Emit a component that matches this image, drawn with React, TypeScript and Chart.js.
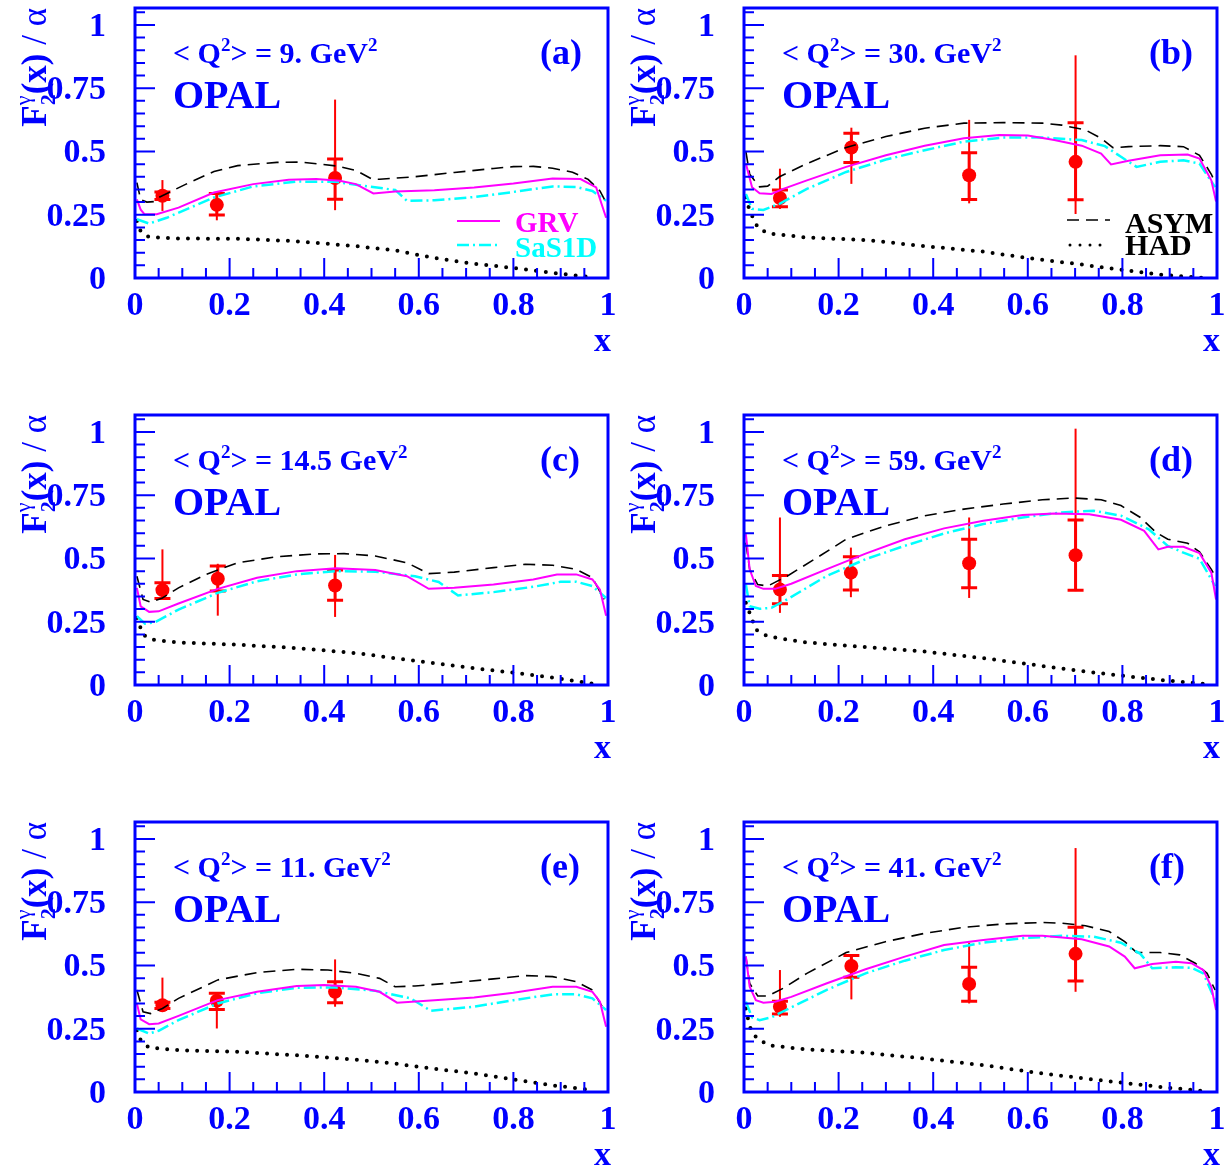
import React, { useEffect, useRef } from 'react';
import { Chart, registerables } from 'chart.js';
Chart.register(...registerables);

type XY = [number, number];
// [x, y, statLo, statHi, totLo, totHi]
type ErrPt = [number, number, number, number, number, number];

const X_TICKS = [0, 0.2, 0.4, 0.6, 0.8, 1];
const X_TICK_LABELS = ['0', '0.2', '0.4', '0.6', '0.8', '1'];
const Y_TICKS = [0, 0.25, 0.5, 0.75, 1];
const Y_TICK_LABELS = ['0', '0.25', '0.5', '0.75', '1'];
const X_MIN = 0;
const X_MAX = 1;
const Y_MIN = 0;
const Y_MAX = 1.067;
const MINOR_STEP = 0.05;

const PANEL_TAGS = ['(a)', '(b)', '(c)', '(d)', '(e)', '(f)'];
const Q2_VALUES = ['9.', '30.', '14.5', '59.', '11.', '41.'];
const SERIES_NAMES = ['GRV', 'SaS1D', 'ASYM', 'HAD'];

// ---------- panel (a) <Q2> = 9 ----------
const GRV_A: XY[] = [[0.004,0.311],[0.012,0.27],[0.02,0.252],[0.046,0.252],[0.092,0.278],[0.167,0.338],[0.25,0.371],[0.325,0.388],[0.383,0.391],[0.433,0.384],[0.467,0.371],[0.504,0.334],[0.55,0.342],[0.633,0.347],[0.717,0.358],[0.8,0.373],[0.883,0.393],[0.942,0.391],[0.975,0.358],[0.996,0.238]];
const SAS_A: XY[] = [[0.004,0.232],[0.03,0.215],[0.067,0.238],[0.167,0.318],[0.25,0.362],[0.342,0.381],[0.425,0.38],[0.483,0.364],[0.55,0.348],[0.575,0.305],[0.633,0.307],[0.717,0.32],[0.8,0.34],[0.883,0.362],[0.933,0.36],[0.967,0.344],[0.996,0.305]];
const ASYM_A: XY[] = [[0.004,0.377],[0.012,0.31],[0.025,0.30],[0.04,0.302],[0.05,0.318],[0.108,0.371],[0.167,0.421],[0.217,0.444],[0.30,0.457],[0.35,0.458],[0.425,0.443],[0.467,0.425],[0.5,0.392],[0.517,0.39],[0.59,0.40],[0.675,0.417],[0.758,0.433],[0.8,0.44],[0.842,0.441],[0.883,0.434],[0.925,0.418],[0.958,0.39],[0.983,0.344],[0.996,0.298]];
const HAD_A: XY[] = [[0.004,0.225],[0.012,0.185],[0.029,0.162],[0.092,0.156],[0.217,0.155],[0.333,0.146],[0.467,0.126],[0.55,0.109],[0.633,0.079],[0.717,0.056],[0.8,0.04],[0.883,0.02],[0.967,0.003]];
const PTS_A: ErrPt[] = [[0.058,0.325,0.31,0.34,0.265,0.387],[0.173,0.289,0.249,0.334,0.228,0.34],[0.423,0.395,0.311,0.47,0.268,0.705]];

// ---------- panel (b) <Q2> = 30 ----------
const GRV_B: XY[] = [[0.004,0.452],[0.017,0.359],[0.033,0.335],[0.058,0.332],[0.083,0.352],[0.133,0.386],[0.216,0.439],[0.30,0.485],[0.382,0.523],[0.465,0.552],[0.54,0.565],[0.60,0.563],[0.656,0.545],[0.714,0.523],[0.755,0.492],[0.776,0.449],[0.813,0.463],[0.88,0.485],[0.938,0.488],[0.963,0.472],[0.988,0.386],[0.998,0.302]];
const SAS_B: XY[] = [[0.004,0.332],[0.017,0.273],[0.041,0.269],[0.075,0.293],[0.133,0.352],[0.216,0.419],[0.30,0.468],[0.382,0.505],[0.465,0.539],[0.548,0.555],[0.631,0.555],[0.714,0.545],[0.763,0.521],[0.797,0.479],[0.83,0.439],[0.88,0.459],[0.929,0.465],[0.963,0.452],[0.996,0.359]];
const ASYM_B: XY[] = [[0.004,0.499],[0.012,0.41],[0.033,0.36],[0.05,0.363],[0.075,0.40],[0.133,0.452],[0.216,0.516],[0.30,0.559],[0.382,0.592],[0.465,0.612],[0.548,0.614],[0.631,0.612],[0.672,0.604],[0.722,0.585],[0.755,0.552],[0.78,0.515],[0.813,0.519],[0.88,0.523],[0.929,0.519],[0.963,0.485],[0.988,0.41],[0.997,0.372]];
const HAD_B: XY[] = [[0.004,0.319],[0.012,0.266],[0.029,0.20],[0.05,0.176],[0.133,0.16],[0.257,0.15],[0.382,0.126],[0.506,0.104],[0.589,0.082],[0.714,0.053],[0.797,0.033],[0.88,0.013],[0.975,0.0]];
const PTS_B: ErrPt[] = [[0.076,0.316,0.282,0.348,0.273,0.432],[0.227,0.516,0.456,0.572,0.372,0.594],[0.476,0.406,0.31,0.495,0.295,0.625],[0.701,0.459,0.309,0.614,0.253,0.88]];

// ---------- panel (c) <Q2> = 14.5 ----------
const GRV_C: XY[] = [[0.004,0.384],[0.012,0.311],[0.03,0.289],[0.05,0.291],[0.092,0.322],[0.175,0.38],[0.258,0.424],[0.342,0.45],[0.425,0.461],[0.508,0.454],[0.575,0.43],[0.621,0.38],[0.675,0.384],[0.758,0.397],[0.842,0.417],[0.892,0.437],[0.933,0.437],[0.967,0.417],[0.983,0.377],[0.996,0.274]];
const SAS_C: XY[] = [[0.004,0.272],[0.021,0.242],[0.042,0.248],[0.092,0.298],[0.175,0.364],[0.258,0.41],[0.342,0.437],[0.425,0.45],[0.508,0.448],[0.592,0.43],[0.642,0.407],[0.683,0.354],[0.758,0.367],[0.842,0.388],[0.9,0.408],[0.933,0.408],[0.967,0.391],[0.996,0.344]];
const ASYM_C: XY[] = [[0.004,0.43],[0.017,0.338],[0.033,0.327],[0.058,0.344],[0.092,0.384],[0.15,0.437],[0.217,0.483],[0.30,0.507],[0.383,0.518],[0.442,0.519],[0.508,0.51],[0.575,0.483],[0.621,0.44],[0.675,0.446],[0.758,0.464],[0.825,0.477],[0.883,0.473],[0.933,0.457],[0.967,0.424],[0.992,0.338]];
const HAD_C: XY[] = [[0.004,0.265],[0.017,0.199],[0.037,0.179],[0.092,0.168],[0.217,0.159],[0.342,0.146],[0.467,0.126],[0.55,0.106],[0.633,0.086],[0.717,0.066],[0.8,0.049],[0.883,0.029],[0.971,0.004]];
const PTS_C: ErrPt[] = [[0.058,0.375,0.342,0.404,0.338,0.536],[0.175,0.42,0.371,0.47,0.274,0.479],[0.423,0.393,0.335,0.454,0.269,0.514]];

// ---------- panel (d) <Q2> = 59 ----------
const GRV_D: XY[] = [[0.004,0.596],[0.012,0.457],[0.025,0.391],[0.041,0.38],[0.066,0.38],[0.1,0.40],[0.174,0.457],[0.257,0.519],[0.34,0.576],[0.423,0.619],[0.506,0.649],[0.589,0.672],[0.656,0.678],[0.73,0.675],[0.797,0.653],[0.846,0.609],[0.876,0.536],[0.896,0.546],[0.929,0.546],[0.963,0.521],[0.988,0.444],[0.998,0.338]];
const SAS_D: XY[] = [[0.004,0.397],[0.012,0.311],[0.033,0.301],[0.058,0.305],[0.091,0.338],[0.174,0.43],[0.257,0.497],[0.34,0.55],[0.423,0.599],[0.506,0.636],[0.589,0.662],[0.672,0.682],[0.739,0.689],[0.797,0.669],[0.855,0.616],[0.896,0.55],[0.929,0.523],[0.963,0.499],[0.996,0.391]];
const ASYM_D: XY[] = [[0.004,0.563],[0.012,0.457],[0.029,0.397],[0.05,0.391],[0.091,0.43],[0.149,0.497],[0.216,0.576],[0.299,0.629],[0.382,0.669],[0.465,0.695],[0.548,0.715],[0.631,0.732],[0.697,0.739],[0.755,0.732],[0.797,0.709],[0.838,0.662],[0.871,0.603],[0.896,0.576],[0.938,0.56],[0.963,0.526],[0.988,0.457],[0.996,0.43]];
const HAD_D: XY[] = [[0.004,0.325],[0.012,0.285],[0.025,0.219],[0.05,0.192],[0.133,0.168],[0.257,0.15],[0.382,0.132],[0.506,0.106],[0.631,0.075],[0.755,0.046],[0.88,0.02],[0.975,0.004]];
const PTS_D: ErrPt[] = [[0.076,0.377,0.321,0.433,0.285,0.662],[0.226,0.444,0.375,0.507,0.347,0.543],[0.476,0.481,0.384,0.576,0.344,0.662],[0.701,0.513,0.374,0.652,0.371,1.013]];

// ---------- panel (e) <Q2> = 11 ----------
const GRV_E: XY[] = [[0.004,0.35],[0.012,0.287],[0.03,0.268],[0.05,0.271],[0.092,0.301],[0.175,0.363],[0.258,0.396],[0.342,0.419],[0.4,0.423],[0.467,0.416],[0.517,0.396],[0.554,0.353],[0.633,0.363],[0.717,0.373],[0.8,0.392],[0.883,0.416],[0.933,0.416],[0.967,0.396],[0.983,0.357],[0.996,0.258]];
const SAS_E: XY[] = [[0.004,0.251],[0.03,0.231],[0.05,0.242],[0.092,0.284],[0.175,0.35],[0.258,0.39],[0.342,0.412],[0.425,0.413],[0.508,0.40],[0.583,0.37],[0.625,0.321],[0.717,0.337],[0.8,0.363],[0.883,0.386],[0.933,0.386],[0.967,0.37],[0.996,0.324]];
const ASYM_E: XY[] = [[0.004,0.403],[0.017,0.317],[0.033,0.31],[0.058,0.33],[0.092,0.37],[0.175,0.443],[0.258,0.472],[0.342,0.485],[0.408,0.482],[0.467,0.469],[0.517,0.449],[0.55,0.416],[0.592,0.419],[0.675,0.432],[0.758,0.447],[0.825,0.46],[0.883,0.456],[0.933,0.436],[0.967,0.403],[0.992,0.324]];
const HAD_E: XY[] = [[0.004,0.244],[0.012,0.205],[0.029,0.176],[0.092,0.165],[0.217,0.159],[0.342,0.145],[0.467,0.128],[0.55,0.112],[0.633,0.092],[0.717,0.073],[0.8,0.05],[0.883,0.026],[0.971,0.007]];
const PTS_E: ErrPt[] = [[0.058,0.343,0.33,0.355,0.337,0.452],[0.173,0.361,0.326,0.39,0.251,0.39],[0.423,0.396,0.353,0.436,0.337,0.524]];

// ---------- panel (f) <Q2> = 41 ----------
const GRV_F: XY[] = [[0.004,0.535],[0.012,0.416],[0.025,0.363],[0.041,0.353],[0.066,0.357],[0.1,0.376],[0.174,0.429],[0.257,0.485],[0.34,0.535],[0.423,0.581],[0.506,0.601],[0.589,0.617],[0.631,0.617],[0.714,0.604],[0.772,0.575],[0.805,0.535],[0.826,0.489],[0.863,0.506],[0.913,0.515],[0.946,0.509],[0.971,0.482],[0.988,0.416],[0.998,0.324]];
const SAS_F: XY[] = [[0.004,0.357],[0.017,0.295],[0.033,0.284],[0.058,0.295],[0.091,0.326],[0.174,0.403],[0.257,0.469],[0.34,0.519],[0.423,0.561],[0.506,0.59],[0.589,0.608],[0.672,0.617],[0.739,0.614],[0.797,0.59],[0.838,0.546],[0.863,0.489],[0.913,0.493],[0.946,0.491],[0.971,0.469],[0.996,0.363]];
const ASYM_F: XY[] = [[0.004,0.535],[0.012,0.429],[0.029,0.38],[0.05,0.379],[0.083,0.41],[0.133,0.469],[0.216,0.551],[0.299,0.594],[0.382,0.627],[0.465,0.651],[0.548,0.664],[0.631,0.67],[0.672,0.667],[0.722,0.657],[0.772,0.634],[0.805,0.594],[0.83,0.551],[0.88,0.551],[0.921,0.542],[0.954,0.509],[0.979,0.469],[0.996,0.403]];
const HAD_F: XY[] = [[0.004,0.33],[0.012,0.258],[0.025,0.218],[0.05,0.185],[0.133,0.168],[0.257,0.155],[0.382,0.132],[0.506,0.106],[0.631,0.073],[0.755,0.046],[0.88,0.02],[0.975,0.003]];
const PTS_F: ErrPt[] = [[0.076,0.337,0.308,0.359,0.297,0.482],[0.227,0.498,0.453,0.539,0.366,0.539],[0.476,0.427,0.359,0.493,0.35,0.59],[0.701,0.546,0.439,0.651,0.396,0.964]];

// ---------- styles ----------
const AXIS_BLUE = '#0000ff';
const POINT_RED = '#ff0000';
const FONT = '"Liberation Serif", "Times New Roman", serif';

type LineStyle = { color: string; width: number; dash: number[]; cap: CanvasLineCap };
const STYLE_GRV: LineStyle = { color: '#ff00ff', width: 2, dash: [], cap: 'butt' };
const STYLE_SAS: LineStyle = { color: '#00ffff', width: 2.5, dash: [12, 4, 2, 4], cap: 'butt' };
const STYLE_ASYM: LineStyle = { color: '#000000', width: 1.6, dash: [12, 7], cap: 'butt' };
const STYLE_HAD: LineStyle = { color: '#000000', width: 4, dash: [0, 10], cap: 'round' };

type PanelData = { grv: XY[]; sas: XY[]; asym: XY[]; had: XY[]; pts: ErrPt[] };
const PANEL_DATA: PanelData[] = [
  { grv: GRV_A, sas: SAS_A, asym: ASYM_A, had: HAD_A, pts: PTS_A },
  { grv: GRV_B, sas: SAS_B, asym: ASYM_B, had: HAD_B, pts: PTS_B },
  { grv: GRV_C, sas: SAS_C, asym: ASYM_C, had: HAD_C, pts: PTS_C },
  { grv: GRV_D, sas: SAS_D, asym: ASYM_D, had: HAD_D, pts: PTS_D },
  { grv: GRV_E, sas: SAS_E, asym: ASYM_E, had: HAD_E, pts: PTS_E },
  { grv: GRV_F, sas: SAS_F, asym: ASYM_F, had: HAD_F, pts: PTS_F },
];

// layout of each canvas (page pixels)
const LAYOUT = [
  { left: 0, top: 0, width: 640, height: 354, yAxisW: 135, padRight: 32 },
  { left: 612, top: 0, width: 615, height: 354, yAxisW: 132, padRight: 10 },
  { left: 0, top: 407, width: 640, height: 354, yAxisW: 135, padRight: 32 },
  { left: 612, top: 407, width: 615, height: 354, yAxisW: 132, padRight: 10 },
  { left: 0, top: 814, width: 640, height: 354, yAxisW: 135, padRight: 32 },
  { left: 612, top: 814, width: 615, height: 354, yAxisW: 132, padRight: 10 },
];

type Part = { t: string; size: number; weight?: string; dy?: number; noAdvance?: boolean };

function partFont(p: Part) {
  return `${p.weight ?? 'bold'} ${p.size}px ${FONT}`;
}
function measureParts(ctx: CanvasRenderingContext2D, parts: Part[]) {
  let w = 0;
  for (const p of parts) {
    ctx.font = partFont(p);
    if (!p.noAdvance) w += ctx.measureText(p.t).width;
  }
  return w;
}
function drawParts(ctx: CanvasRenderingContext2D, x: number, y: number, parts: Part[]) {
  let cx = x;
  ctx.textAlign = 'left';
  ctx.textBaseline = 'alphabetic';
  for (const p of parts) {
    ctx.font = partFont(p);
    ctx.fillText(p.t, cx, y + (p.dy ?? 0));
    if (!p.noAdvance) cx += ctx.measureText(p.t).width;
  }
}
function strokeSample(ctx: CanvasRenderingContext2D, s: LineStyle, x0: number, x1: number, y: number) {
  ctx.save();
  ctx.strokeStyle = s.color;
  ctx.lineWidth = s.width;
  ctx.setLineDash(s.dash);
  ctx.lineCap = s.cap;
  ctx.beginPath();
  ctx.moveTo(x0, y);
  ctx.lineTo(x1, y);
  ctx.stroke();
  ctx.restore();
}

function makePlugin(index: number) {
  const data = PANEL_DATA[index];
  return {
    id: 'opalDecor' + index,
    beforeDatasetsDraw(chart: any) {
      const { ctx } = chart;
      const xs = chart.scales.x;
      const ys = chart.scales.y;
      ctx.save();
      ctx.strokeStyle = POINT_RED;
      for (const [x, , sLo, sHi, tLo, tHi] of data.pts) {
        const px = xs.getPixelForValue(x);
        ctx.lineWidth = 2;
        ctx.beginPath();
        ctx.moveTo(px, ys.getPixelForValue(tLo));
        ctx.lineTo(px, ys.getPixelForValue(tHi));
        ctx.stroke();
        ctx.lineWidth = 3;
        const yl = ys.getPixelForValue(sLo);
        const yh = ys.getPixelForValue(sHi);
        ctx.beginPath();
        ctx.moveTo(px, yl);
        ctx.lineTo(px, yh);
        ctx.moveTo(px - 8, yl);
        ctx.lineTo(px + 8, yl);
        ctx.moveTo(px - 8, yh);
        ctx.lineTo(px + 8, yh);
        ctx.stroke();
      }
      ctx.restore();
    },
    afterDraw(chart: any) {
      const { ctx, chartArea: a } = chart;
      const xs = chart.scales.x;
      const ys = chart.scales.y;
      ctx.save();
      // frame
      ctx.strokeStyle = AXIS_BLUE;
      ctx.lineWidth = 3;
      ctx.strokeRect(a.left, a.top, a.right - a.left, a.bottom - a.top);
      // inner ticks
      ctx.lineWidth = 2;
      ctx.beginPath();
      const nY = Math.floor(Y_MAX / MINOR_STEP + 1e-6);
      for (let i = 1; i <= nY; i++) {
        const y = ys.getPixelForValue(i * MINOR_STEP);
        const len = i % 5 === 0 ? 20 : 10;
        ctx.moveTo(a.left, y);
        ctx.lineTo(a.left + len, y);
      }
      const nX = Math.round(X_MAX / MINOR_STEP);
      for (let i = 1; i < nX; i++) {
        const x = xs.getPixelForValue(i * MINOR_STEP);
        const len = i % 4 === 0 ? 20 : 10;
        ctx.moveTo(x, a.bottom);
        ctx.lineTo(x, a.bottom - len);
      }
      ctx.stroke();

      // texts inside
      ctx.fillStyle = AXIS_BLUE;
      drawParts(ctx, a.left + 38, a.top + 55, [
        { t: '< Q', size: 30 },
        { t: '2', size: 19, dy: -12 },
        { t: '> = ' + Q2_VALUES[index] + ' GeV', size: 30 },
        { t: '2', size: 19, dy: -12 },
      ]);
      drawParts(ctx, a.left + 38, a.top + 100, [{ t: 'OPAL', size: 40 }]);
      drawParts(ctx, a.left + 405, a.top + 56, [{ t: PANEL_TAGS[index], size: 36 }]);

      // x title
      ctx.font = `bold 34px ${FONT}`;
      ctx.textAlign = 'right';
      ctx.textBaseline = 'alphabetic';
      ctx.fillText('x', a.right + 3, a.bottom + 73);

      // y title (rotated)
      const title: Part[] = [
        { t: 'F', size: 35 },
        { t: 'γ', size: 22, weight: 'normal', dy: -16, noAdvance: true },
        { t: '2', size: 22, dy: 9 },
        { t: '(x)', size: 35 },
        { t: ' / ', size: 35, weight: 'normal' },
        { t: 'α', size: 35, weight: 'normal' },
      ];
      ctx.save();
      ctx.translate(a.left - 89, a.top + 0);
      ctx.rotate(-Math.PI / 2);
      const tw = measureParts(ctx, title);
      drawParts(ctx, -tw, 0, title);
      ctx.restore();

      // legends
      if (index === 0) {
        strokeSample(ctx, STYLE_GRV, a.left + 322, a.left + 365, a.top + 213);
        strokeSample(ctx, STYLE_SAS, a.left + 322, a.left + 365, a.top + 237);
        ctx.fillStyle = STYLE_GRV.color;
        drawParts(ctx, a.left + 380, a.top + 224, [{ t: SERIES_NAMES[0], size: 29 }]);
        ctx.fillStyle = STYLE_SAS.color;
        drawParts(ctx, a.left + 380, a.top + 249, [{ t: SERIES_NAMES[1], size: 29 }]);
      }
      if (index === 1) {
        strokeSample(ctx, STYLE_ASYM, a.left + 323, a.left + 366, a.top + 212);
        strokeSample(ctx, { ...STYLE_HAD, width: 3 }, a.left + 326, a.left + 362, a.top + 237);
        ctx.fillStyle = '#000000';
        drawParts(ctx, a.left + 381, a.top + 225, [{ t: SERIES_NAMES[2], size: 30 }]);
        drawParts(ctx, a.left + 381, a.top + 247, [{ t: SERIES_NAMES[3], size: 30 }]);
      }
      ctx.restore();
    },
  };
}

function lineDataset(label: string, pts: XY[], s: LineStyle) {
  return {
    label,
    data: pts.map(([x, y]) => ({ x, y })),
    showLine: true,
    borderColor: s.color,
    borderWidth: s.width,
    borderDash: s.dash,
    borderCapStyle: s.cap,
    pointRadius: 0,
    pointHoverRadius: 0,
    fill: false,
    tension: 0,
  };
}

function Panel({ index }: { index: number }) {
  const ref = useRef<HTMLCanvasElement | null>(null);
  const L = LAYOUT[index];
  useEffect(() => {
    if (!ref.current) return;
    const d = PANEL_DATA[index];
    const tickFont = { family: FONT, size: 34, weight: 'bold' as const };
    const chart = new Chart(ref.current, {
      type: 'scatter',
      data: {
        datasets: [
          lineDataset(SERIES_NAMES[0], d.grv, STYLE_GRV),
          lineDataset(SERIES_NAMES[1], d.sas, STYLE_SAS),
          lineDataset(SERIES_NAMES[2], d.asym, STYLE_ASYM),
          lineDataset(SERIES_NAMES[3], d.had, STYLE_HAD),
          {
            label: 'OPAL',
            data: d.pts.map((p) => ({ x: p[0], y: p[1] })),
            showLine: false,
            pointRadius: 7,
            pointHoverRadius: 7,
            pointStyle: 'circle',
            backgroundColor: POINT_RED,
            borderColor: POINT_RED,
            borderWidth: 0,
          },
        ] as any,
      },
      options: {
        animation: false,
        responsive: false,
        maintainAspectRatio: false,
        events: [],
        layout: { padding: { left: 0, right: L.padRight, top: 8, bottom: 0 } },
        plugins: { legend: { display: false }, tooltip: { enabled: false }, title: { display: false } },
        scales: {
          x: {
            type: 'linear',
            min: X_MIN,
            max: X_MAX,
            grid: { display: false, drawTicks: false },
            border: { display: false },
            afterBuildTicks: (s: any) => {
              s.ticks = X_TICKS.map((v) => ({ value: v }));
            },
            ticks: {
              font: tickFont,
              color: AXIS_BLUE,
              padding: 8,
              maxRotation: 0,
              autoSkip: false,
              callback: (_v: any, i: number) => X_TICK_LABELS[i],
            },
            afterFit: (s: any) => {
              s.height = L.height - 278;
              s.paddingLeft = 0;
              s.paddingRight = 0;
            },
          },
          y: {
            type: 'linear',
            min: Y_MIN,
            max: Y_MAX,
            grid: { display: false, drawTicks: false },
            border: { display: false },
            afterBuildTicks: (s: any) => {
              s.ticks = Y_TICKS.map((v) => ({ value: v }));
            },
            ticks: {
              font: tickFont,
              color: AXIS_BLUE,
              padding: 29,
              labelOffset: 2,
              autoSkip: false,
              callback: (_v: any, i: number) => Y_TICK_LABELS[i],
            },
            afterFit: (s: any) => {
              s.width = L.yAxisW;
              s.paddingTop = 0;
              s.paddingBottom = 0;
            },
          },
        },
      } as any,
      plugins: [makePlugin(index)],
    });
    return () => chart.destroy();
  }, [index]);
  return (
    <canvas
      ref={ref}
      width={L.width}
      height={L.height}
      style={{ position: 'absolute', left: L.left, top: L.top, width: L.width, height: L.height }}
    />
  );
}

export default function App() {
  return (
    <div style={{ position: 'absolute', left: 0, top: 0, width: 1227, height: 1168, background: '#ffffff' }}>
      {PANEL_DATA.map((_, i) => (
        <Panel key={i} index={i} />
      ))}
    </div>
  );
}
